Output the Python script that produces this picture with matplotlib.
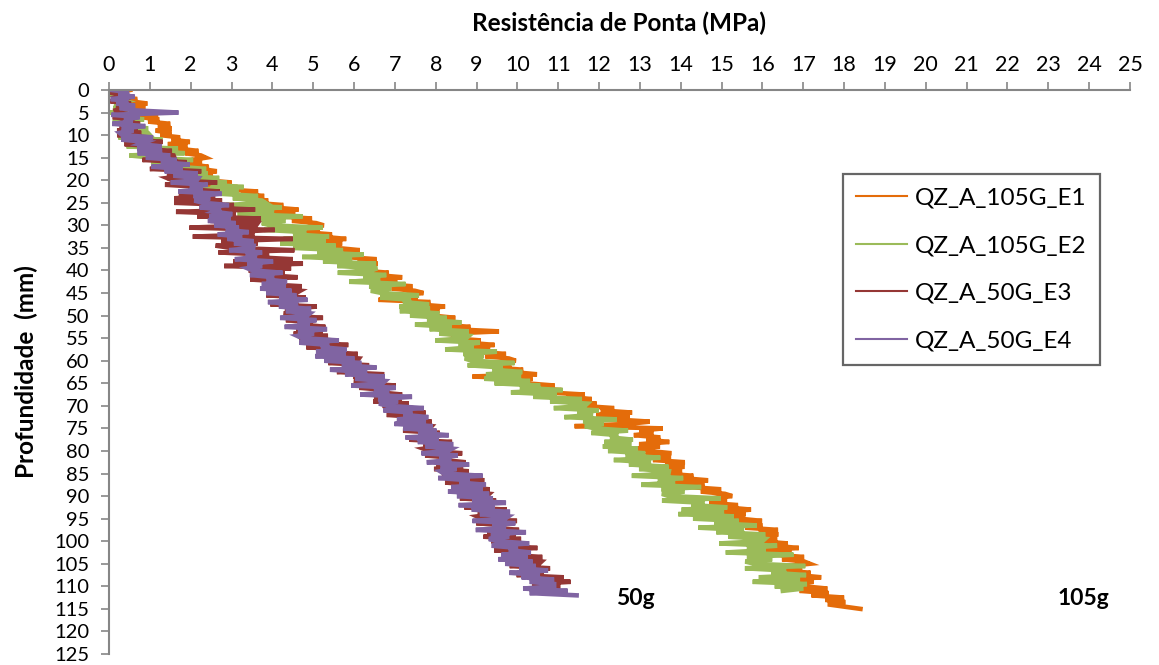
import numpy as np
import matplotlib
matplotlib.use("Agg")
import matplotlib.pyplot as plt

plt.rcParams['font.family'] = ['Lato', 'DejaVu Sans']

# depth readings every 0.5 mm, values are tip resistance in MPa
step = 0.5

qz_105g_e1 = [
    0.52, 0.20, 0.47, 0.21, 0.69, 0.52, 0.94, 0.50, 0.89, 0.54,
    0.81, 1.20, 0.75, 1.23, 0.96, 1.50, 1.20, 1.53, 1.14, 1.53,
    1.26, 1.74, 1.53, 1.98, 1.44, 1.92, 1.68, 2.19, 1.86, 2.25,
    2.37, 2.02, 2.27, 1.98, 2.44, 2.24, 2.64, 2.17, 2.54, 2.16,
    2.37, 3.00, 2.38, 3.15, 2.79, 3.65, 3.25, 3.80, 3.26, 3.90,
    3.54, 4.27, 3.96, 4.64, 3.83, 4.56, 4.20, 4.97, 4.48, 5.07,
    5.26, 4.76, 5.16, 4.75, 5.46, 5.19, 5.81, 5.13, 5.71, 5.17,
    5.57, 6.14, 5.46, 6.17, 5.75, 6.55, 6.09, 6.58, 5.98, 6.56,
    6.14, 6.85, 6.52, 7.18, 6.35, 7.06, 6.68, 7.43, 6.92, 7.49,
    7.70, 7.13, 7.56, 6.60, 7.87, 7.55, 8.23, 7.46, 8.09, 7.47,
    7.92, 8.48, 7.79, 8.49, 8.06, 8.85, 8.38, 9.55, 8.25, 8.82,
    8.39, 9.10, 8.78, 9.44, 8.62, 9.33, 8.96, 9.72, 9.21, 9.79,
    9.96, 9.45, 9.85, 9.43, 10.14, 9.86, 10.48, 8.90, 10.37, 9.82,
    10.20, 10.91, 10.22, 11.08, 10.69, 11.65, 11.21, 11.82, 11.23, 11.94,
    11.55, 12.37, 12.04, 12.81, 11.93, 12.75, 12.37, 13.24, 12.71, 11.40,
    13.56, 12.99, 13.33, 12.85, 13.50, 13.16, 13.72, 12.98, 13.49, 12.88,
    13.22, 13.77, 13.07, 13.76, 13.32, 14.10, 13.62, 14.09, 13.47, 14.03,
    13.59, 14.31, 14.00, 14.67, 13.86, 14.58, 14.22, 14.99, 14.49, 15.08,
    15.26, 14.74, 15.13, 14.70, 15.40, 15.11, 15.72, 15.03, 15.59, 15.03,
    15.42, 15.99, 15.30, 16.00, 15.58, 16.38, 15.91, 16.39, 15.79, 16.36,
    15.94, 16.62, 16.26, 16.89, 16.03, 16.71, 16.30, 17.02, 16.48, 17.02,
    17.16, 16.61, 16.97, 16.51, 17.18, 16.86, 17.44, 16.72, 17.25, 16.66,
    17.02, 17.59, 16.91, 17.62, 17.20, 18.00, 17.54, 18.03, 17.60, 18.01,
    18.40,
]

qz_105g_e2 = [
    0.05, 0.37, 0.02, 0.27, 0.19, 0.41, 0.13, 0.39, 0.11, 0.45,
    0.03, 0.63, 0.30, 0.86, 0.09, 0.69, 0.32, 0.96, 0.47, 0.95,
    1.00, 0.23, 1.31, 0.78, 1.14, 0.43, 1.69, 0.86, 1.85, 0.50,
    1.05, 2.06, 1.03, 1.86, 1.67, 2.38, 1.59, 2.42, 1.63, 2.70,
    2.01, 2.88, 2.49, 3.30, 2.30, 3.17, 2.72, 3.65, 3.03, 3.74,
    3.83, 2.87, 4.23, 3.57, 4.04, 3.15, 4.74, 3.71, 4.32, 3.74,
    3.95, 5.23, 3.79, 4.83, 4.51, 5.39, 4.27, 5.31, 4.19, 5.55,
    4.51, 5.73, 5.10, 6.24, 4.73, 5.95, 5.24, 6.54, 5.59, 6.57,
    6.43, 5.60, 6.79, 6.23, 6.64, 5.88, 7.26, 6.37, 6.91, 6.41,
    6.68, 7.59, 6.64, 7.39, 7.20, 7.84, 7.11, 7.86, 7.12, 8.09,
    7.37, 8.27, 7.79, 8.63, 7.49, 8.39, 7.85, 8.81, 8.09, 8.81,
    8.75, 7.99, 9.08, 8.56, 8.93, 8.23, 9.50, 8.68, 9.17, 8.71,
    8.88, 9.93, 8.78, 9.64, 9.39, 10.12, 9.23, 10.09, 9.19, 10.31,
    9.44, 10.56, 10.06, 11.11, 9.84, 10.96, 10.39, 11.58, 10.80, 11.71,
    11.65, 10.89, 11.99, 11.47, 11.85, 11.15, 12.43, 11.61, 12.11, 11.65,
    11.90, 12.71, 11.81, 12.47, 12.27, 12.83, 12.13, 12.79, 12.09, 12.95,
    12.22, 13.13, 12.65, 13.50, 12.36, 13.27, 12.73, 13.70, 12.98, 13.71,
    13.70, 12.80, 14.06, 13.44, 13.86, 13.03, 14.50, 13.53, 14.09, 13.54,
    13.70, 14.98, 13.54, 14.58, 14.26, 15.14, 14.02, 15.06, 13.94, 15.30,
    14.30, 15.42, 14.82, 15.86, 14.43, 15.55, 14.87, 16.07, 15.16, 16.06,
    16.00, 14.94, 16.36, 15.62, 16.08, 15.10, 16.76, 15.62, 16.24, 15.58,
    15.80, 17.05, 15.57, 16.58, 16.22, 17.07, 15.91, 16.92, 15.76, 17.09,
    16.30, 17.00, 16.50,
]

qz_50g_e3 = [
    0.33, 0.02, 0.43, 0.20, 0.34, 0.03, 0.54, 0.18, 0.37, 0.16,
    0.18, 0.73, 0.09, 0.53, 0.38, 0.76, 0.26, 0.70, 0.20, 0.79,
    0.20, 0.97, 0.59, 1.31, 0.38, 1.15, 0.72, 1.54, 0.96, 1.58,
    1.60, 0.82, 1.90, 1.36, 1.72, 1.00, 2.26, 1.42, 1.90, 1.42,
    1.55, 2.65, 1.37, 2.26, 1.96, 2.71, 1.71, 2.60, 1.60, 2.77,
    1.60, 3.06, 2.22, 3.58, 1.64, 3.10, 2.16, 3.72, 2.48, 3.64,
    3.60, 1.97, 4.06, 2.91, 3.56, 2.05, 4.50, 2.75, 3.64, 2.61,
    3.00, 4.54, 2.68, 3.92, 3.46, 4.50, 3.04, 4.75, 2.82, 4.46,
    3.42, 4.30, 3.80, 4.62, 3.46, 4.34, 3.78, 4.72, 3.98, 4.68,
    4.58, 3.85, 4.82, 4.31, 4.63, 3.95, 5.09, 4.31, 4.73, 4.28,
    4.45, 5.24, 4.33, 4.97, 4.76, 5.30, 4.59, 5.23, 4.52, 5.36,
    4.66, 5.50, 5.08, 5.86, 4.83, 5.67, 5.19, 6.09, 5.44, 6.12,
    6.08, 5.37, 6.37, 5.89, 6.23, 5.58, 6.74, 5.98, 6.43, 6.00,
    6.20, 7.02, 6.13, 6.80, 6.61, 7.18, 6.49, 7.16, 6.47, 7.34,
    6.70, 7.45, 7.05, 7.75, 6.80, 7.55, 7.10, 7.90, 7.30, 7.90,
    7.85, 7.20, 8.10, 7.65, 7.95, 7.35, 8.40, 7.70, 8.10, 7.70,
    7.85, 8.65, 7.74, 8.39, 8.18, 8.73, 8.02, 8.67, 7.96, 8.81,
    8.15, 8.90, 8.49, 9.19, 8.23, 8.98, 8.52, 9.32, 8.71, 9.31,
    9.25, 8.59, 9.48, 9.02, 9.31, 8.70, 9.74, 9.03, 9.42, 9.01,
    9.13, 9.99, 8.99, 9.69, 9.45, 10.04, 9.26, 9.96, 9.17, 10.09,
    9.36, 10.18, 9.73, 10.49, 9.43, 10.25, 9.74, 10.61, 9.94, 10.59,
    10.53, 9.81, 10.80, 10.31, 10.64, 9.98, 11.13, 10.36, 11.30, 10.36,
    11.05, 10.45, 11.00,
]

qz_50g_e4 = [
    0.06, 0.49, 0.23, 0.63, 0.04, 0.47, 0.18, 0.64, 0.26, 0.60,
    1.70, 0.06, 0.75, 0.37, 0.58, 0.08, 0.89, 0.31, 0.60, 0.26,
    0.33, 1.08, 0.30, 0.91, 0.76, 1.29, 0.69, 1.30, 0.70, 1.50,
    0.90, 1.66, 1.27, 1.98, 1.04, 1.80, 1.36, 2.17, 1.58, 2.19,
    2.15, 1.51, 2.42, 1.98, 2.29, 1.70, 2.76, 2.07, 2.48, 2.09,
    2.30, 2.94, 2.22, 2.74, 2.58, 3.02, 2.46, 2.98, 2.42, 3.10,
    2.58, 3.18, 2.86, 3.42, 2.66, 3.26, 2.90, 3.54, 3.06, 3.54,
    3.53, 2.94, 3.75, 3.35, 3.62, 3.08, 4.02, 3.39, 3.75, 3.39,
    3.53, 4.25, 3.45, 4.04, 3.86, 4.36, 3.74, 4.33, 3.70, 4.47,
    3.85, 4.59, 4.17, 4.86, 3.89, 4.63, 4.16, 4.95, 4.33, 4.92,
    4.85, 4.19, 5.08, 4.62, 4.91, 4.30, 5.34, 4.63, 5.02, 4.61,
    4.73, 5.63, 4.66, 5.39, 5.19, 5.82, 5.07, 5.80, 5.05, 6.01,
    5.27, 6.18, 5.70, 6.55, 5.41, 6.32, 5.78, 6.75, 6.03, 6.76,
    6.70, 5.93, 7.02, 6.49, 6.86, 6.15, 7.42, 6.59, 7.08, 6.61,
    6.83, 7.71, 6.72, 7.43, 7.21, 7.82, 7.05, 7.76, 6.99, 7.93,
    7.21, 8.02, 7.57, 8.32, 7.26, 8.07, 7.56, 8.43, 7.75, 8.40,
    8.30, 7.65, 8.54, 8.09, 8.38, 7.78, 8.82, 8.12, 8.51, 8.11,
    8.20, 9.15, 8.06, 8.83, 8.58, 9.23, 8.38, 9.15, 8.30, 9.31,
    8.52, 9.40, 8.90, 9.72, 8.56, 9.44, 8.88, 9.82, 9.08, 9.78,
    9.70, 8.90, 9.95, 9.39, 9.72, 8.98, 10.21, 9.35, 9.80, 9.30,
    9.50, 10.29, 9.37, 10.01, 9.79, 10.33, 9.61, 10.25, 9.53, 10.37,
    9.70, 10.45, 10.05, 10.75, 9.80, 10.55, 10.10, 10.90, 10.30, 10.90,
    10.90, 10.14, 11.23, 10.30, 11.45,
]

series = [
    ("QZ_A_105G_E1", qz_105g_e1, "#E46C0A"),
    ("QZ_A_105G_E2", qz_105g_e2, "#9BBB59"),
    ("QZ_A_50G_E3", qz_50g_e3, "#953735"),
    ("QZ_A_50G_E4", qz_50g_e4, "#8064A2"),
]

x_ticks = list(range(0, 26))
y_ticks = list(range(0, 126, 5))

fig = plt.figure(figsize=(11.59, 6.65), dpi=100)
ax = fig.add_axes([109/1159, 1-654/665, 1021/1159, 564/665])

for name, vals, col in series:
    depth = np.arange(len(vals)) * step
    ax.plot(vals, depth, color=col, lw=3.3, solid_joinstyle='miter', label=name)

ax.set_xlim(0, 25)
ax.set_ylim(125, 0)
ax.xaxis.tick_top()
ax.xaxis.set_label_position('top')
ax.set_xticks(x_ticks)
ax.set_yticks(y_ticks)

for s in ['right', 'bottom']:
    ax.spines[s].set_visible(False)
for s in ['top', 'left']:
    ax.spines[s].set_color('#868686')
    ax.spines[s].set_linewidth(1.5)

ax.tick_params(axis='x', direction='out', length=6, width=1.2, color='#868686',
               labelsize=15.5, pad=5)
ax.tick_params(axis='y', direction='out', length=6, width=1.2, color='#868686',
               labelsize=14.5, pad=8)

ax.set_xlabel("Resistência de Ponta (MPa)", fontsize=17.5, fontweight='bold', labelpad=17)
ax.set_ylabel("Profundidade  (mm)", fontsize=17.5, fontweight='bold', labelpad=12)

leg = ax.legend(loc='upper left', bbox_to_anchor=(843/1159, 1-174/665),
                bbox_transform=fig.transFigure, borderaxespad=0,
                fontsize=17.5, frameon=True, fancybox=False,
                handlelength=2.1, handletextpad=0.3, labelspacing=1.1,
                borderpad=0.55)
leg.get_frame().set_edgecolor('#404040')
leg.get_frame().set_linewidth(1.6)
for h in leg.get_lines():
    h.set_linewidth(1.5)

ax.text(12.9, 114.2, "50g", fontsize=16.5, fontweight='bold', ha='center', va='baseline')
ax.text(23.85, 114.2, "105g", fontsize=16.5, fontweight='bold', ha='center', va='baseline')

fig.savefig("out.png", dpi=100)
